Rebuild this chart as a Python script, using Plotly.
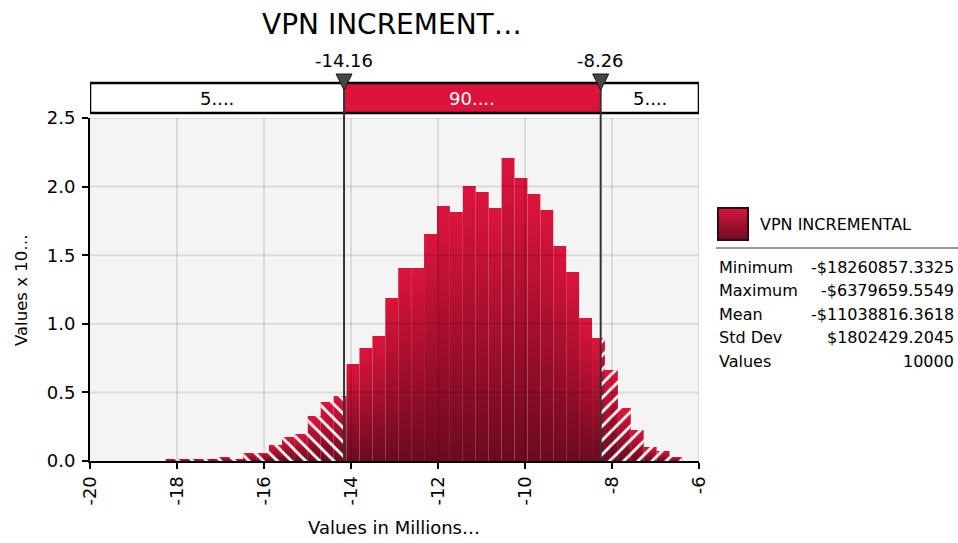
import plotly.graph_objects as go

# ---------------- data ----------------
title_text = "VPN INCREMENT…"
series_name = "VPN INCREMENTAL"
x_title = "Values in Millions…"
y_title = "Values x 10…"

# histogram densities (40 equal bins between min and max, in millions)
bin_heights = [0.015, 0.015, 0.015, 0.015, 0.029, 0.015, 0.058, 0.058, 0.117, 0.175,
               0.197, 0.328, 0.430, 0.474, 0.707, 0.824, 0.911, 1.188, 1.407, 1.407,
               1.655, 1.858, 1.815, 2.004, 1.961, 1.844, 2.208, 2.063, 1.946, 1.829,
               1.567, 1.378, 1.042, 0.896, 0.663, 0.386, 0.226, 0.102, 0.073, 0.029]
data_min = -18.2608573325
data_max = -6.3796595549

markers = [-14.16, -8.26]
band_labels = ["5....", "90....", "5...."]

stat_names = ["Minimum", "Maximum", "Mean", "Std Dev", "Values"]
stat_values = ["-$18260857.3325", "-$6379659.5549", "-$11038816.3618", "$1802429.2045", "10000"]

x_ticks = [-20, -18, -16, -14, -12, -10, -8, -6]
y_ticks = [0.0, 0.5, 1.0, 1.5, 2.0, 2.5]

# ---------------- layout geometry ----------------
W, H = 958, 543
ML, MR, MT, MB = 90, 0, 118, 82
PW, PH = W - ML - MR, H - MT - MB
FONT = "DejaVu Sans, Verdana, sans-serif"
CRIMSON = "#dc143c"
DARK = "#6b0a1f"


def px_x(px):
    return (px - ML) / PW


def px_y(py):
    return (H - MB - py) / PH


x_range = [x_ticks[0], x_ticks[-1]]
y_range = [y_ticks[0], y_ticks[-1]]

fig = go.Figure()

n = len(bin_heights)
bw = (data_max - data_min) / n
grad = dict(type="vertical", colorscale=[[0, DARK], [0.5, "#a50f2d"], [1, CRIMSON]])

lo, hi = markers
hatch_left_x, hatch_left_y = [], []
hatch_right_x, hatch_right_y = [], []

for i, h in enumerate(bin_heights):
    x0 = data_min + i * bw
    x1 = x0 + bw
    fig.add_trace(go.Scatter(
        x=[x0, x0, x1, x1, x0], y=[0, h, h, 0, 0], mode="lines",
        fill="toself", fillgradient=grad, line=dict(width=0),
        showlegend=False, hoverinfo="skip"))
    if x0 < lo:
        e = min(x1, lo)
        hatch_left_x += [x0, x0, e, e, x0, None]
        hatch_left_y += [0, h, h, 0, 0, None]
    if x1 > hi:
        s = max(x0, hi)
        hatch_right_x += [s, s, x1, x1, s, None]
        hatch_right_y += [0, h, h, 0, 0, None]

for hx, hy, shp in [(hatch_left_x, hatch_left_y, "\\"), (hatch_right_x, hatch_right_y, "/")]:
    fig.add_trace(go.Scatter(
        x=hx, y=hy, mode="lines", fill="toself", connectgaps=False,
        fillcolor="rgba(0,0,0,0)", line=dict(width=0),
        fillpattern=dict(shape=shp, fgcolor="white", bgcolor="rgba(0,0,0,0)",
                         size=10, solidity=0.28, fillmode="replace"),
        showlegend=False, hoverinfo="skip"))

shapes = []
for xv in x_ticks[1:]:
    shapes.append(dict(type="line", xref="x", yref="y", x0=xv, x1=xv, y0=y_range[0], y1=y_range[1],
                       line=dict(color="rgba(0,0,0,0.10)", width=2), layer="above"))
for yv in y_ticks[1:]:
    shapes.append(dict(type="line", xref="x", yref="y", x0=x_range[0], x1=x_range[1], y0=yv, y1=yv,
                       line=dict(color="rgba(0,0,0,0.10)", width=2), layer="above"))

band_y0, band_y1 = px_y(113), px_y(83)
shapes.append(dict(type="rect", xref="x", yref="paper", x0=lo, x1=hi, y0=band_y0, y1=band_y1,
                   fillcolor=CRIMSON, line=dict(width=0), layer="above"))
shapes.append(dict(type="rect", xref="x", yref="paper", x0=x_range[0], x1=x_range[1],
                   y0=band_y0, y1=band_y1, fillcolor="rgba(0,0,0,0)",
                   line=dict(color="black", width=2.5), layer="above"))
for m in markers:
    shapes.append(dict(type="line", xref="x", yref="paper", x0=m, x1=m, y0=0, y1=band_y1,
                       line=dict(color="#333333", width=2), layer="above"))
    shapes.append(dict(type="path", xref="x", yref="paper",
                       xsizemode="pixel", xanchor=m, ysizemode="pixel", yanchor=band_y1,
                       path="M -8,9 L 8,9 L 0,-7 Z", fillcolor="#474747",
                       line=dict(color="#1a1a1a", width=1), layer="above"))


def mix(c1, c2, t):
    a = [int(c1[k:k + 2], 16) for k in (1, 3, 5)]
    b = [int(c2[k:k + 2], 16) for k in (1, 3, 5)]
    return "#" + "".join(f"{round(a[j] + (b[j] - a[j]) * t):02x}" for j in range(3))


sw_x0, sw_x1, sw_y0, sw_y1 = 718, 748, 208, 240
steps = 16
for k in range(steps):
    ya = sw_y0 + (sw_y1 - sw_y0) * k / steps
    yb = sw_y0 + (sw_y1 - sw_y0) * (k + 1) / steps
    shapes.append(dict(type="rect", xref="paper", yref="paper", x0=px_x(sw_x0), x1=px_x(sw_x1),
                       y0=px_y(yb), y1=px_y(ya), fillcolor=mix("#d8163e", "#6e0b20", (k + 0.5) / steps),
                       line=dict(width=0), layer="above"))
shapes.append(dict(type="rect", xref="paper", yref="paper", x0=px_x(sw_x0), x1=px_x(sw_x1),
                   y0=px_y(sw_y1), y1=px_y(sw_y0), fillcolor="rgba(0,0,0,0)",
                   line=dict(color="#2b0a10", width=2), layer="above"))
shapes.append(dict(type="line", xref="paper", yref="paper", x0=px_x(716), x1=px_x(958),
                   y0=px_y(248), y1=px_y(248), line=dict(color="#9a9a9a", width=2)))

annotations = []
annotations.append(dict(text=title_text, xref="paper", yref="paper", x=px_x(392), y=px_y(24),
                        showarrow=False, font=dict(family=FONT, size=28, color="black"),
                        xanchor="center", yanchor="middle"))
for m in markers:
    annotations.append(dict(text=f"{m:.2f}", xref="x", yref="paper", x=m, y=px_y(60),
                            showarrow=False, font=dict(family=FONT, size=18, color="black"),
                            xanchor="center", yanchor="middle"))
seg_bounds = [x_range[0], lo, hi, x_range[1]]
for j, lab in enumerate(band_labels):
    annotations.append(dict(text=lab, xref="x", yref="paper",
                            x=(seg_bounds[j] + seg_bounds[j + 1]) / 2, y=(band_y0 + band_y1) / 2,
                            showarrow=False,
                            font=dict(family=FONT, size=18, color="white" if j == 1 else "black"),
                            xanchor="center", yanchor="middle"))
annotations.append(dict(text=x_title, xref="paper", yref="paper", x=px_x(394), y=px_y(527),
                        showarrow=False, font=dict(family=FONT, size=18, color="black"),
                        xanchor="center", yanchor="middle"))
annotations.append(dict(text=y_title, xref="paper", yref="paper", x=px_x(21), y=px_y(290),
                        showarrow=False, textangle=-90, font=dict(family=FONT, size=16.5, color="black"),
                        xanchor="center", yanchor="middle"))
annotations.append(dict(text=series_name, xref="paper", yref="paper", x=px_x(758), y=px_y(224),
                        showarrow=False, font=dict(family=FONT, size=16, color="black"),
                        xanchor="left", yanchor="middle"))
row_y = [267, 290.5, 314, 337.5, 361]
for nm, val, ry in zip(stat_names, stat_values, row_y):
    annotations.append(dict(text=nm, xref="paper", yref="paper", x=px_x(717), y=px_y(ry),
                            showarrow=False, font=dict(family=FONT, size=16, color="black"),
                            xanchor="left", yanchor="middle"))
    annotations.append(dict(text=val, xref="paper", yref="paper", x=px_x(956), y=px_y(ry),
                            showarrow=False, font=dict(family=FONT, size=16, color="black"),
                            xanchor="right", yanchor="middle"))

fig.update_layout(
    template="none",
    width=W, height=H, autosize=False,
    margin=dict(l=ML, r=MR, t=MT, b=MB, pad=0, autoexpand=False),
    paper_bgcolor="white", plot_bgcolor="#f4f4f4",
    showlegend=False,
    shapes=shapes, annotations=annotations,
    xaxis=dict(domain=[0, px_x(699)], range=x_range, tickvals=x_ticks, automargin=False,
               ticktext=[str(t) for t in x_ticks], tickangle=-90,
               showgrid=False, zeroline=False, showline=True, linecolor="black", linewidth=2,
               ticks="outside", ticklen=6, tickwidth=2, tickcolor="black",
               tickfont=dict(family=FONT, size=18, color="black"), fixedrange=True),
    yaxis=dict(range=y_range, tickvals=y_ticks, ticktext=[f"{t:.1f}" for t in y_ticks], automargin=False,
               showgrid=False, zeroline=False, showline=True, linecolor="black", linewidth=2,
               ticks="outside", ticklen=6, tickwidth=2, tickcolor="black", ticklabelstandoff=3,
               tickfont=dict(family=FONT, size=18, color="black"), fixedrange=True),
)

fig.write_html("out.html", config={"displayModeBar": False, "responsive": False},
               post_script="document.body.style.margin='0';")
